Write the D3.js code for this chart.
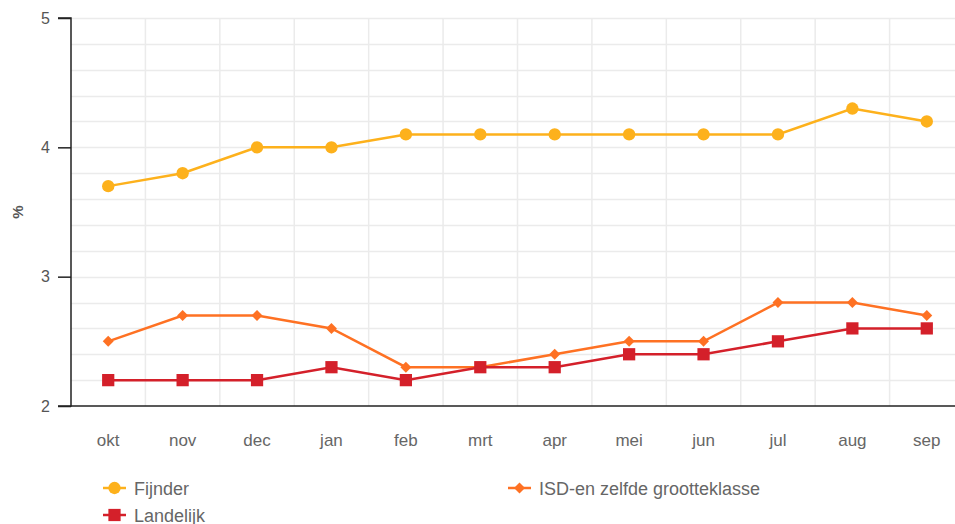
<!DOCTYPE html>
<html><head><meta charset="utf-8">
<script src="https://cdn.jsdelivr.net/npm/d3@7"></script>
<style>body{margin:0;background:#fff;font-family:"Liberation Sans",Arial,sans-serif;}</style>
</head><body><svg id="c" width="955" height="524"></svg>
<script>
const categories = ["okt","nov","dec","jan","feb","mrt","apr","mei","jun","jul","aug","sep"];
const fijnder = [3.7,3.8,4.0,4.0,4.1,4.1,4.1,4.1,4.1,4.1,4.3,4.2];
const isd = [2.5,2.7,2.7,2.6,2.3,2.3,2.4,2.5,2.5,2.8,2.8,2.7];
const landelijk = [2.2,2.2,2.2,2.3,2.2,2.3,2.3,2.4,2.4,2.5,2.6,2.6];
const yTicks = [2,3,4,5];
const seriesNames = ["Fijnder","ISD-en zelfde grootteklasse","Landelijk"];
const colors = ["#fdb11c","#fe7123","#d4202a"];

(function(){
const svg = d3.select("#c");
const FF = "Liberation Sans, Arial, sans-serif";
const mL = 71, mR = 964, mT = 18, mB = 406;
const x = d3.scaleBand().domain(categories).range([mL, mR]);
const y = d3.scaleLinear().domain([2,5]).range([mB, mT]);

// grid
const g = svg.append("g");
g.selectAll(".hg").data(d3.range(2.2,5.01,0.2)).enter().append("line")
 .attr("x1",mL).attr("x2",mR).attr("y1",d=>Math.round(y(d))+0.5).attr("y2",d=>Math.round(y(d))+0.5)
 .attr("stroke","#ebebeb").attr("stroke-width",1.5);
g.selectAll(".vg").data(categories.slice(1)).enter().append("line")
 .attr("x1",d=>x(d)).attr("x2",d=>x(d)).attr("y1",mT).attr("y2",mB)
 .attr("stroke","#ebebeb").attr("stroke-width",1.5);

// y axis
const ya = svg.append("g").attr("transform",`translate(${mL},0)`)
 .call(d3.axisLeft(y).tickValues(yTicks).tickFormat(d3.format("d")).tickSize(13).tickPadding(8));
ya.select(".domain").attr("stroke","#222").attr("stroke-width",1.5).attr("d",`M-13,${y(5)}H0V${y(2)}H-13`);
ya.selectAll(".tick line").attr("stroke","#222").attr("stroke-width",1.5);
ya.selectAll(".tick text").attr("fill","#555").attr("font-size",16).attr("font-family",FF);

// x labels
const xa = svg.append("g").attr("transform",`translate(0,${mB})`)
 .call(d3.axisBottom(x).tickSize(0).tickPadding(28));
xa.select(".domain").attr("stroke","#222").attr("stroke-width",1.5).attr("d",`M${mL},0H${mR}`);
xa.selectAll(".tick text").attr("fill","#666").attr("font-size",17).attr("font-family",FF);

svg.append("text").attr("transform","translate(23,212) rotate(-90)").attr("text-anchor","middle")
 .attr("fill","#555").attr("font-size",15).attr("font-weight","bold").attr("font-family",FF).text("%");

const cx = d => x(d) + x.bandwidth()/2;
const data = [fijnder, isd, landelijk];
const shapes = [d3.symbolCircle, d3.symbolSquare, d3.symbolSquare];
const sizes = [120, 60, 150];
const rots = [0, 45, 0];
const line = d3.line().x((d,i)=>cx(categories[i])).y(d=>y(d));
[0,1,2].forEach(k=>{
  const s = svg.append("g");
  s.append("path").datum(data[k]).attr("d",line).attr("fill","none").attr("stroke",colors[k]).attr("stroke-width",2.5);
  s.selectAll("path.m").data(data[k]).enter().append("path").attr("class","m")
   .attr("transform",(d,i)=>`translate(${cx(categories[i])},${y(d)}) rotate(${rots[k]})`)
   .attr("d",d3.symbol().type(shapes[k]).size(sizes[k])).attr("fill",colors[k]);
});

// legend
const legPos = [[103,488],[508,488],[103,515]];
[0,1,2].forEach(k=>{
  const [lx,ly] = legPos[k];
  const lg = svg.append("g");
  lg.append("line").attr("x1",lx).attr("x2",lx+23).attr("y1",ly).attr("y2",ly).attr("stroke",colors[k]).attr("stroke-width",2.5);
  lg.append("path").attr("transform",`translate(${lx+11.5},${ly}) rotate(${rots[k]})`).attr("d",d3.symbol().type(shapes[k]).size(sizes[k])).attr("fill",colors[k]);
  lg.append("text").attr("x",lx+31).attr("y",ly+6.5).attr("fill","#666").attr("font-size",18).attr("font-family",FF).text(seriesNames[k]);
});
})();
</script></body></html>
